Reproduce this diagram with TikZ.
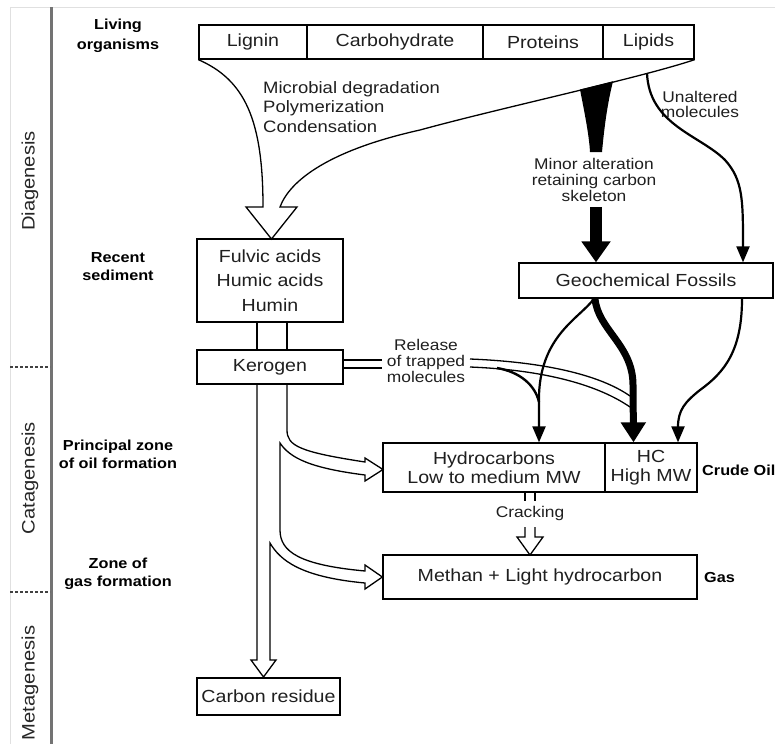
\documentclass[tikz,border=0pt]{standalone}
\usepackage{fontspec}
\setmainfont{Liberation Sans}[FakeStretch=1.12]
\usetikzlibrary{arrows.meta}
\newcommand\fsMain{\fontsize{17.5}{19}\selectfont}
\newcommand\fsLbl{\fontsize{14.5}{18}\selectfont\bfseries}
\newcommand\fsSide{\fontsize{18}{20}\selectfont}
\newcommand\fsSmall{\fontsize{15.5}{16}\selectfont}
\begin{document}
\begin{tikzpicture}[x=1pt,y=-1pt,
  box/.style={draw, line width=1.3pt, inner sep=0pt, align=center, text=black!88, font=\fsMain},
  lbl/.style={inner sep=0pt, align=center, text=black, font=\fsLbl},
  side/.style={rotate=90, inner sep=0pt, text=black!85, font=\fsSide},
  small/.style={inner sep=0pt, align=center, text=black!88, font=\fsSmall},
  ln/.style={line width=1.3pt, line join=miter},
  thinarrow/.style={line width=2.2pt, -{Triangle[length=16pt,width=13pt]}},
]
\useasboundingbox (0,0) rectangle (775,744);
% frame
\draw[line width=1pt, black!12] (10,744) -- (10,7) -- (775,7);
\draw[line width=3pt, black!55] (51.5,7) -- (51.5,744);
\draw[line width=1.2pt, densely dashed, black!75] (10,367) -- (50,367);
\draw[line width=1.2pt, densely dashed, black!75] (10,592) -- (50,592);
\node[side] (dia) at (30,181) {Diagenesis};
\node[side] (cat) at (30,478) {Catagenesis};
\node[side] (met) at (30,683) {Metagenesis};
% left labels
\node[lbl, font=\fontsize{14.5}{20}\selectfont\bfseries] (liv) at (118,36) {Living\\organisms};
\node[lbl] (rec) at (118,267) {Recent\\sediment};
\node[lbl] (pz) at (118,454) {Principal zone\\of oil formation};
\node[lbl] (zg) at (118,574) {Zone of\\gas formation};
% boxes
\node[box, minimum width=108pt, minimum height=34pt] (lig) at (253,42) {Lignin};
\node[box, minimum width=176pt, minimum height=34pt] (carb) at (395,42) {Carbohydrate};
\node[box, minimum width=120pt, minimum height=34pt] (prot) at (543,42) {Proteins};
\node[box, minimum width=91pt, minimum height=34pt] (lip) at (648.5,42) {Lipids};
\node[box, minimum width=146pt, minimum height=83pt, font=\fontsize{17.5}{24.5}\selectfont] (ful) at (270,280.5) {Fulvic acids\\Humic acids\\Humin};
\node[box, minimum width=146pt, minimum height=34pt] (ker) at (270,367) {Kerogen};
\node[box, minimum width=254pt, minimum height=35pt] (geo) at (646,280.5) {Geochemical Fossils};
\node[box, minimum width=222pt, minimum height=49pt] (hyd) at (494,467.5) {Hydrocarbons\\Low to medium MW};
\node[box, minimum width=92pt, minimum height=49pt] (hc) at (651,467.5) {HC\\High MW};
\node[box, minimum width=314pt, minimum height=44pt] (meth) at (540,577) {Methan + Light hydrocarbon};
\node[box, minimum width=143pt, minimum height=37pt] (carbres) at (268.5,696.5) {Carbon residue};
\node[lbl, anchor=west] (crude) at (702,470) {Crude Oil};
\node[lbl, anchor=west] (gas) at (704,577) {Gas};
% process labels
\node[small, align=left, anchor=west, font=\fontsize{16.5}{19.5}\selectfont] (mic) at (263,107) {Microbial degradation\\Polymerization\\Condensation};
\node[small] (minor) at (594,180) {Minor alteration\\retaining carbon\\skeleton};
\node[small, font=\fontsize{15.5}{15}\selectfont] (unal) at (700,104.5) {Unaltered\\molecules};
\node[small] (rel) at (426,361) {Release\\of trapped\\molecules};
\node[small] (crk) at (530,513) {Cracking};
% funnel from living organisms
\draw[ln] (lig.south west) .. controls (245,80) and (263,120) .. (263,207)
  -- (246,207) -- (271.5,239) -- (297,207) -- (280,207)
  .. controls (290,180) and (330,150) .. (420,130)
  .. controls (500,108) and (640,78) .. (lip.south east);
% black wedge and thick arrow
\fill (580,89.5) .. controls (585,115) and (589,135) .. (590,152) -- (602,152)
  .. controls (604,130) and (607,105) .. (613,81.3) -- cycle;
\draw[line width=12pt, -{Triangle[length=21pt,width=28pt]}] (596,207) -- ([xshift=-50pt]geo.north);
% unaltered molecules
\coordinate (unst) at (647,73);
\draw[thinarrow] (unst) .. controls (649,125) and (700,135) .. (725,160)
  .. controls (743,180) and (743,200) .. ([xshift=97pt]geo.north);
% fulvic to kerogen
\draw[ln] ([xshift=-13pt]ful.south) -- ([xshift=-13pt]ker.north);
\draw[ln] ([xshift=17pt]ful.south) -- ([xshift=17pt]ker.north);
% trunk from kerogen
\draw[ln] ([xshift=-13pt]ker.south) -- (257,660) -- (251,660) -- (263.5,677) -- (276,660) -- (270,660) -- (270,543)
  .. controls (280,560) and (300,577) .. (365,583) -- (365,589) -- (meth.west) -- (365,565) -- (365,571)
  .. controls (300,565) and (280,552) .. (280,530) -- (280,443)
  .. controls (290,458) and (310,468) .. (365,475) -- (365,481) -- (383,469.5) -- (365,458) -- (365,462)
  .. controls (300,452) and (287,446) .. (287,430) -- ([xshift=17pt]ker.south);
% release of trapped molecules
\draw[ln] (343,360) -- (382,360);
\draw[ln] (343,368) -- (382,368);
\draw[ln] (470,359) .. controls (545,362) and (600,375) .. (630,396);
\draw[ln] (470,367) .. controls (545,370) and (598,385) .. (630,407);
\draw[line width=2.4pt] (497,368) .. controls (520,372) and (535,385) .. (539,402);
% geo to hydrocarbons
\draw[line width=7pt, -{Triangle[length=20pt,width=24pt]}] ([xshift=-51pt]geo.south) .. controls (598,330) and (633,345) .. (633,385) -- ([xshift=-17.5pt]hc.north);
\draw[thinarrow] ([xshift=-52pt]geo.south) .. controls (580,318) and (541,335) .. (539,395) -- ([xshift=45pt]hyd.north);
\draw[thinarrow] ([xshift=96pt]geo.south) .. controls (742,350) and (725,372) .. (700,390)
  .. controls (685,402) and (678,410) .. ([xshift=27pt]hc.north);
% cracking
\draw[ln] (525,492) -- (525,501) (535,492) -- (535,501);
\draw[ln] (525,527) -- (525,537) -- (517,537) -- (530,555) -- (543,537) -- (535,537) -- (535,527);
\end{tikzpicture}
\end{document}
